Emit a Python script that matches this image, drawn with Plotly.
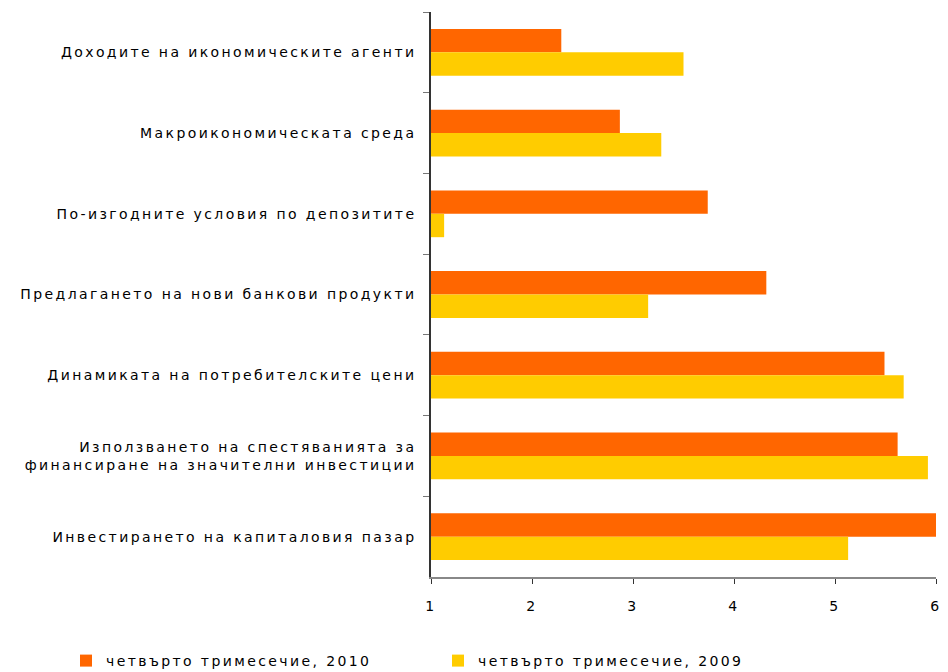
import plotly.graph_objects as go

categories = [
    "Доходите на икономическите агенти",
    "Макроикономическата среда",
    "По-изгодните условия по депозитите",
    "Предлагането на нови банкови продукти",
    "Динамиката на потребителските цени",
    "Използването на спестяванията за<br>финансиране на значителни инвестиции",
    "Инвестирането на капиталовия пазар",
]
q4_2010 = [2.29, 2.87, 3.74, 4.32, 5.49, 5.62, 6.0]
q4_2009 = [3.50, 3.28, 1.13, 3.15, 5.68, 5.92, 5.13]
series_names = ["четвърто тримесечие, 2010", "четвърто тримесечие, 2009"]
x_ticks = [1, 2, 3, 4, 5, 6]

FONT = "DejaVu Sans, Verdana, sans-serif"

fig = go.Figure()
fig.add_trace(go.Bar(y=categories, x=[v - 1 for v in q4_2010], base=1, orientation="h",
                     name=series_names[0], legend="legend",
                     marker=dict(color="#FF6600", line=dict(width=0))))
fig.add_trace(go.Bar(y=categories, x=[v - 1 for v in q4_2009], base=1, orientation="h",
                     name=series_names[1], legend="legend2",
                     marker=dict(color="#FFCC00", line=dict(width=0))))

leg_common = dict(orientation="h", xref="container", yref="container",
                  xanchor="left", yanchor="middle", y=1 - 661 / 672,
                  font=dict(family=FONT, size=14, color="#000000"),
                  itemwidth=30, bgcolor="rgba(0,0,0,0)")

fig.update_layout(
    width=948, height=672,
    margin=dict(l=431, r=12, t=12, b=95, autoexpand=False),
    paper_bgcolor="white", plot_bgcolor="white",
    barmode="group", bargap=0.42, bargroupgap=0,
    font=dict(family=FONT, size=14, color="#000000"),
    showlegend=True,
    legend=dict(x=66 / 948, **leg_common),
    legend2=dict(x=438 / 948, **leg_common),
    xaxis=dict(range=[1, 6], tickvals=x_ticks, showgrid=False, zeroline=False,
               automargin=False,
               showline=True, linecolor="#888888", linewidth=1.5,
               ticks="outside", ticklen=5, tickcolor="#333333",
               tickfont=dict(family=FONT, size=14, color="#000000"),
               ticklabelstandoff=10),
    yaxis=dict(type="category", autorange="reversed", showgrid=False, zeroline=False,
               automargin=False,
               showline=True, linecolor="#333333", linewidth=1.5,
               ticks="outside", ticklen=6, tickcolor="#777777", tickson="boundaries",
               tickfont=dict(family=FONT, size=14, color="#000000"),
               ticklabelstandoff=10),
)

post = """
var st = document.createElement('style');
st.innerHTML = '.js-plotly-plot text { letter-spacing: 2.4px; } '
  + '.js-plotly-plot g[class^="legend"], .js-plotly-plot g[class^="legend"] * { clip-path: none !important; } '
  + 'body { margin: 0; overflow: hidden; }';
document.head.appendChild(st);
"""
fig.write_html("out.html", post_script=post)
